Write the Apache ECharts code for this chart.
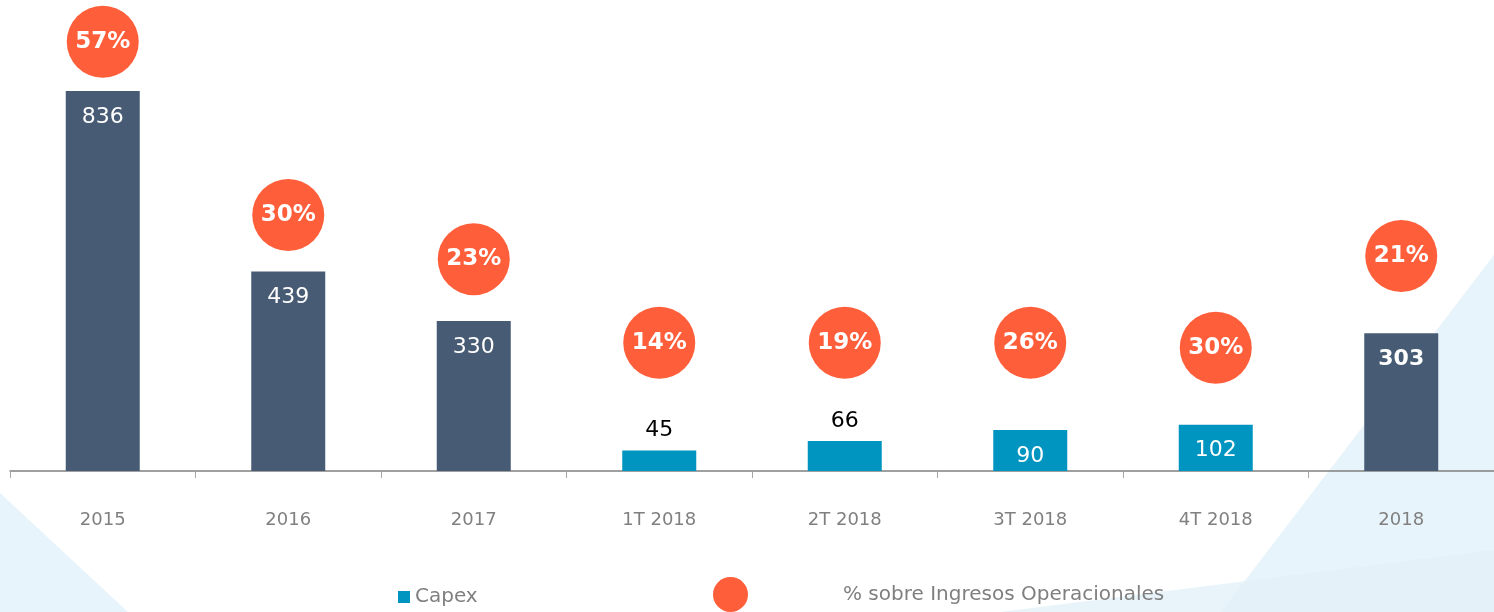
<!DOCTYPE html>
<html>
<head>
<meta charset="utf-8">
<style>
  html, body { margin: 0; padding: 0; background: #fff; }
  #app { width: 1494px; height: 612px; }
</style>
<script src="https://cdn.jsdelivr.net/npm/echarts@6/dist/echarts.min.js"></script>
</head>
<body>
<div id="app"></div>
<script>
// categories and values
const periods = ["2015", "2016", "2017", "1T 2018", "2T 2018", "3T 2018", "4T 2018", "2018"];
const capex = [836, 439, 330, 45, 66, 90, 102, 303];
const isQuarter = [false, false, false, true, true, true, true, false];
const pctLabels = ["57%", "30%", "23%", "14%", "19%", "26%", "30%", "21%"];
// height of each bubble, in the same units as the bars
const bubbleHeight = [944, 563, 466, 282, 282, 282, 271, 473];

const DARK = "#475c74";
const BLUE = "#0094c0";
const ORANGE = "#ff5e3a";
const FONT = "DejaVu Sans";

const barData = capex.map((v, i) => {
  const small = v < 80;
  return {
    value: v,
    itemStyle: { color: isQuarter[i] ? BLUE : DARK },
    label: {
      position: small ? "top" : "insideTop",
      distance: small ? 9 : 15,
      color: small ? "#000" : "#fff",
      fontWeight: i === periods.length - 1 ? "bold" : "normal"
    }
  };
});

const bubbleData = bubbleHeight.map((h, i) => ({ value: h, pct: pctLabels[i] }));

const chart = echarts.init(document.getElementById("app"));
chart.setOption({
  animation: false,
  backgroundColor: "#fff",
  graphic: [
    {
      type: "polygon", z: -10, silent: true,
      shape: { points: [[0, 493], [128, 612], [0, 612]] },
      style: { fill: "#e8f4fb" }
    },
    {
      type: "polygon", z: -10, silent: true,
      shape: { points: [[1494, 255], [1494, 612], [1221, 612]] },
      style: { fill: "#e8f4fb" }
    },
    {
      type: "polygon", z: -9, silent: true,
      shape: { points: [[1000, 612], [1494, 550], [1494, 612]] },
      style: { fill: "#e2f0f9", opacity: 0.8 }
    }
  ],
  grid: { left: 10, top: 0, width: 1490, height: 471, containLabel: false },
  legend: [
    {
      data: ["Capex"],
      left: 398, top: 587, padding: 0,
      icon: "rect", itemWidth: 12, itemHeight: 12,
      textStyle: { fontFamily: FONT, fontSize: 20, color: "#7f7f7f" }
    },
    {
      data: ["% sobre Ingresos Operacionales"],
      left: 713, top: 577, padding: 0,
      icon: "circle", itemWidth: 35, itemHeight: 35,
      textStyle: { fontFamily: FONT, fontSize: 20, color: "#7f7f7f", padding: [0, 0, 0, 90] }
    }
  ],
  xAxis: {
    type: "category",
    data: periods,
    axisLine: { lineStyle: { color: "#808080", width: 1.5 } },
    axisTick: { show: true, length: 7, lineStyle: { color: "#a6a6a6" } },
    axisLabel: { margin: 40, fontFamily: FONT, fontSize: 18, color: "#808080" }
  },
  yAxis: {
    type: "value", min: 0, max: 1036, show: false, splitLine: { show: false }
  },
  series: [
    {
      name: "Capex",
      type: "bar",
      barWidth: 74,
      itemStyle: { color: BLUE },
      label: { show: true, fontFamily: FONT, fontSize: 22 },
      data: barData
    },
    {
      name: "% sobre Ingresos Operacionales",
      type: "scatter",
      symbol: "circle",
      symbolSize: 72,
      itemStyle: { color: ORANGE, opacity: 1 },
      label: {
        show: true, position: "inside",
        fontFamily: FONT, fontSize: 23, fontWeight: "bold", color: "#fff",
        formatter: p => p.data.pct
      },
      data: bubbleData
    }
  ]
});
</script>
</body>
</html>
